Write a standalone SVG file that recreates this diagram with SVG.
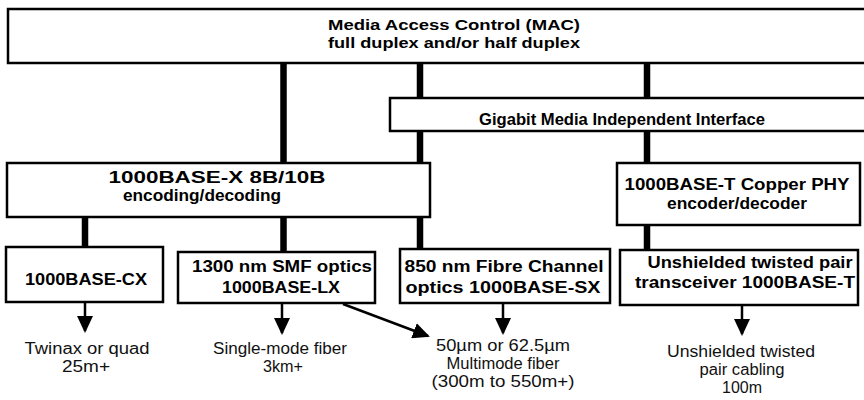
<svg xmlns="http://www.w3.org/2000/svg" width="864" height="400" viewBox="0 0 864 400">
<style>
.box{fill:#fff;stroke:#000;stroke-width:2.5}
.bus{stroke:#000;stroke-width:6.5;fill:none}
.arr{stroke:#000;stroke-width:2.5;fill:none;marker-end:url(#ah)}
.lb{font-family:"Liberation Sans",Arial,sans-serif;font-weight:bold;font-size:16px;text-anchor:middle;fill:#000}
.ml{font-family:"Liberation Sans",Arial,sans-serif;font-size:16px;text-anchor:middle;fill:#111}
</style>
<defs>
<marker id="ah" markerUnits="userSpaceOnUse" markerWidth="18" markerHeight="16" refX="15" refY="8" orient="auto">
<path d="M0,0 L17,8 L0,16 z" fill="#000"/>
</marker>
</defs>
<rect width="864" height="400" fill="#fff"/>
<g id="connectors">
<line class="bus" x1="283.5" y1="63" x2="283.5" y2="252"/>
<line class="bus" x1="420" y1="63" x2="420" y2="249"/>
<line class="bus" x1="647" y1="63" x2="647" y2="250"/>
<line class="bus" x1="85" y1="217" x2="85" y2="247"/>
<line class="arr" x1="85" y1="303" x2="85" y2="331"/>
<line class="arr" x1="282" y1="304" x2="282" y2="333"/>
<line class="arr" x1="343" y1="304" x2="428" y2="336"/>
<line class="arr" x1="503" y1="304" x2="503" y2="333"/>
<line class="arr" x1="742" y1="306" x2="742" y2="334"/>
</g>
<g id="mac">
<rect class="box" x="8" y="9" width="870" height="54"/>
<text class="lb" x="454" y="30" style="font-size:15px" textLength="252" lengthAdjust="spacingAndGlyphs">Media Access Control (MAC)</text>
<text class="lb" x="454" y="48" style="font-size:15px" textLength="252" lengthAdjust="spacingAndGlyphs">full duplex and/or half duplex</text>
</g>
<g id="gmii">
<rect class="box" x="390" y="98" width="490" height="33"/>
<text class="lb" x="622" y="125" textLength="286" lengthAdjust="spacingAndGlyphs">Gigabit Media Independent Interface</text>
</g>
<g id="base-x">
<rect class="box" x="7" y="163" width="423" height="54"/>
<text class="lb" x="217" y="183" textLength="217" lengthAdjust="spacingAndGlyphs">1000BASE-X 8B/10B</text>
<text class="lb" x="202" y="201" textLength="158" lengthAdjust="spacingAndGlyphs">encoding/decoding</text>
</g>
<g id="base-t-phy">
<rect class="box" x="617" y="163" width="243" height="62"/>
<text class="lb" x="737" y="190" textLength="225" lengthAdjust="spacingAndGlyphs">1000BASE-T Copper PHY</text>
<text class="lb" x="737" y="209" textLength="140" lengthAdjust="spacingAndGlyphs">encoder/decoder</text>
</g>
<g id="cx">
<rect class="box" x="6" y="247" width="157" height="55"/>
<text class="lb" x="86" y="285" textLength="122" lengthAdjust="spacingAndGlyphs">1000BASE-CX</text>
</g>
<g id="lx">
<rect class="box" x="178" y="252" width="197" height="51"/>
<text class="lb" x="282" y="272" textLength="180" lengthAdjust="spacingAndGlyphs">1300 nm SMF optics</text>
<text class="lb" x="281" y="293" textLength="118" lengthAdjust="spacingAndGlyphs">1000BASE-LX</text>
</g>
<g id="sx">
<rect class="box" x="400" y="249" width="210" height="54"/>
<text class="lb" x="504" y="272" textLength="199" lengthAdjust="spacingAndGlyphs">850 nm Fibre Channel</text>
<text class="lb" x="503" y="293" textLength="195" lengthAdjust="spacingAndGlyphs">optics 1000BASE-SX</text>
</g>
<g id="utp">
<rect class="box" x="620" y="250" width="238" height="55"/>
<text class="lb" x="750" y="268" textLength="205" lengthAdjust="spacingAndGlyphs">Unshielded twisted pair</text>
<text class="lb" x="745" y="288" textLength="220" lengthAdjust="spacingAndGlyphs">transceiver 1000BASE-T</text>
</g>
<g id="media-cx">
<text class="ml" x="87" y="354" textLength="125" lengthAdjust="spacingAndGlyphs">Twinax or quad</text>
<text class="ml" x="86" y="372" textLength="48" lengthAdjust="spacingAndGlyphs">25m+</text>
</g>
<g id="media-lx">
<text class="ml" x="280" y="354" textLength="134" lengthAdjust="spacingAndGlyphs">Single-mode fiber</text>
<text class="ml" x="283" y="372" textLength="40" lengthAdjust="spacingAndGlyphs">3km+</text>
</g>
<g id="media-sx">
<text class="ml" x="503" y="351" textLength="134" lengthAdjust="spacingAndGlyphs">50µm or 62.5µm</text>
<text class="ml" x="503" y="369" textLength="113" lengthAdjust="spacingAndGlyphs">Multimode fiber</text>
<text class="ml" x="503" y="387" textLength="143" lengthAdjust="spacingAndGlyphs">(300m to 550m+)</text>
</g>
<g id="media-utp">
<text class="ml" x="741" y="357" textLength="148" lengthAdjust="spacingAndGlyphs">Unshielded twisted</text>
<text class="ml" x="742" y="375" textLength="85" lengthAdjust="spacingAndGlyphs">pair cabling</text>
<text class="ml" x="742" y="393" textLength="40" lengthAdjust="spacingAndGlyphs">100m</text>
</g>
</svg>
